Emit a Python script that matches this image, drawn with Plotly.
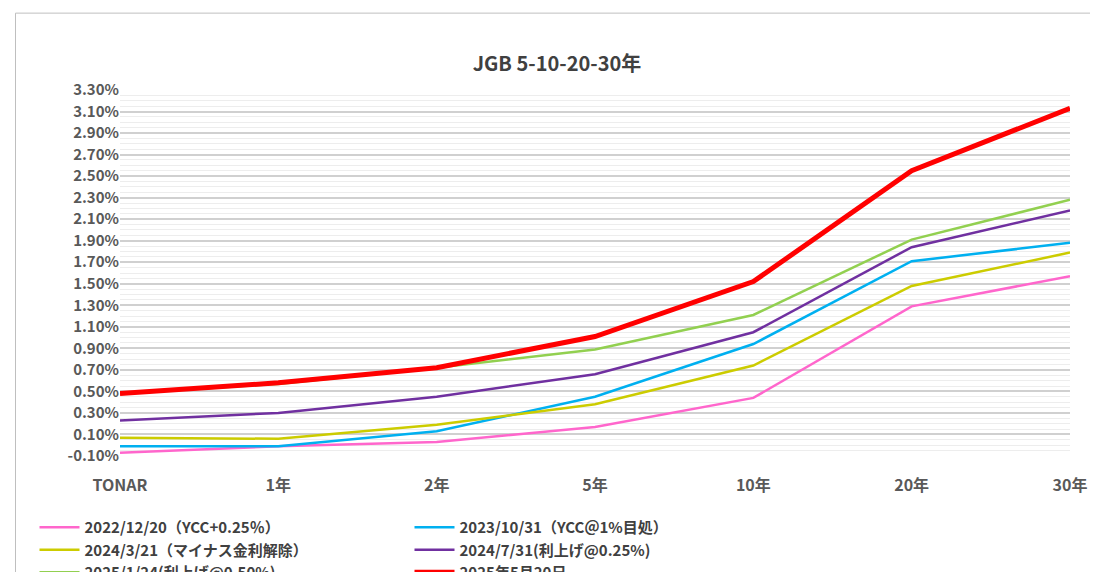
import plotly.graph_objects as go

tenors = ["TONAR", "1年", "2年", "5年", "10年", "20年", "30年"]

names = [
    "2022/12/20（YCC+0.25％）",
    "2023/10/31（YCC＠1%目処）",
    "2024/3/21（マイナス金利解除）",
    "2024/7/31(利上げ@0.25%)",
    "2025/1/24(利上げ@0.50%)",
    "2025年5月20日",
]
y_2022 = [-0.07, -0.01, 0.03, 0.17, 0.44, 1.29, 1.57]
y_2023 = [-0.01, -0.01, 0.13, 0.45, 0.94, 1.71, 1.88]
y_2024a = [0.07, 0.06, 0.19, 0.38, 0.74, 1.48, 1.79]
y_2024b = [0.23, 0.30, 0.45, 0.66, 1.05, 1.84, 2.18]
y_2025a = [0.48, 0.57, 0.72, 0.89, 1.21, 1.91, 2.28]
y_2025b = [0.48, 0.58, 0.72, 1.01, 1.52, 2.55, 3.13]

ytick_vals = [round(-0.1 + 0.2 * i, 2) for i in range(18)]
ytick_text = ["%.2f%%" % v for v in ytick_vals]

series = [y_2022, y_2023, y_2024a, y_2024b, y_2025a, y_2025b]
colors = ["#FF66CC", "#00B0F0", "#CCCC00", "#7030A0", "#92D050", "#FF0000"]
widths = [2.5, 2.5, 2.5, 2.5, 2.5, 5]

fig = go.Figure()
for n, ys, c, w in zip(names, series, colors, widths):
    fig.add_trace(go.Scatter(x=list(range(len(tenors))), y=ys, mode="lines", name=n,
                             line=dict(color=c, width=w)))

font = "Noto Sans CJK JP"
fig.update_layout(
    width=1098, height=572,
    paper_bgcolor="white", plot_bgcolor="white",
    margin=dict(l=112, r=36, t=82, b=124, autoexpand=False),
    font=dict(family=font, color="#595959"),
    title=dict(text="<b>JGB 5-10-20-30年</b>", x=0.5, y=0.915, xanchor="center",
               font=dict(size=20, color="#404040")),
    showlegend=True,
    legend=dict(orientation="h", x=-0.09, y=-0.15, xanchor="left", yanchor="top",
                entrywidth=320, font=dict(size=15, color="#404040", weight="bold"),
                tracegroupgap=0, itemwidth=40),
    shapes=[dict(type="rect", xref="paper", yref="paper", x0=-0.11, x1=1.03, y0=-0.33, y1=1.21,
                 line=dict(color="#BFBFBF", width=1))],
)
fig.update_xaxes(tickmode="array", tickvals=list(range(len(tenors))), ticktext=tenors,
                 range=[0, 6], showgrid=False, zeroline=False, ticklabelstandoff=18,
                 tickfont=dict(size=16, color="#595959", family=font, weight="bold"))
fig.update_yaxes(range=[-0.1, 3.3], tickmode="array", tickvals=ytick_vals, ticktext=ytick_text,
                 zeroline=False, gridcolor="#D0D0D0", gridwidth=1.5,
                 minor=dict(dtick=0.05, tick0=-0.1, showgrid=True, gridcolor="#EDEDED", gridwidth=1),
                 tickfont=dict(size=15, color="#595959", family=font, weight="bold"))

fig.write_html("out.html")
